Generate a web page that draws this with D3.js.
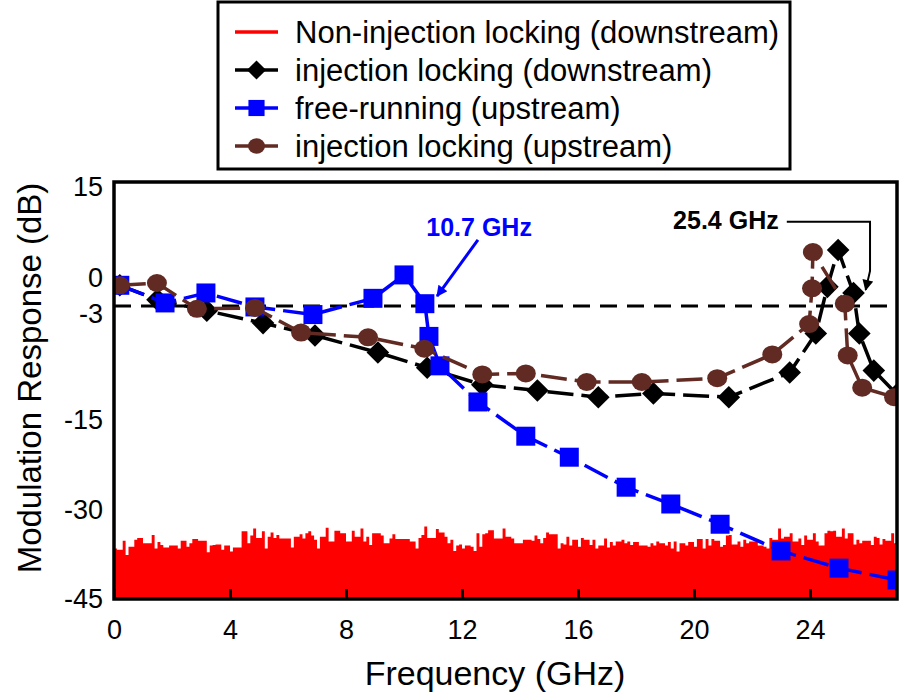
<!DOCTYPE html>
<html>
<head>
<meta charset="utf-8">
<script src="https://cdn.jsdelivr.net/npm/d3@7"></script>
<style>
  body { margin: 0; background: #fff; }
</style>
</head>
<body>
<svg id="chart" width="900" height="694"></svg>
<script>

//--------------------------------------
// DATA
//--------------------------------------

var freqRange = [0, 27];
var xTickValues = [0, 4, 8, 12, 16, 20, 24];
var yTickValues = [15, 0, -3, -15, -30, -45];

// injection locking (downstream)
var ilDownFreq = [0.2, 1.5, 3.2, 5.14, 6.93, 9.1, 10.8, 12.7, 14.6, 16.7, 18.6, 21.2, 23.3, 24.2, 24.6, 24.97, 25.5, 25.7, 26.2, 27.0];
var ilDownResp = [-0.3, -2.2, -3.5, -4.8, -6.1, -7.9, -9.5, -11.3, -11.9, -12.6, -12.2, -12.6, -10.0, -5.9, -0.5, 4.9, -1.3, -5.9, -9.8, -12.3];

// free-running (upstream)
var frUpFreq = [0.2, 1.76, 3.17, 4.86, 6.86, 8.93, 10.0, 10.72, 10.86, 11.24, 12.55, 14.2, 15.7, 17.66, 19.2, 20.9, 23.0, 25.0, 27.0];
var frUpResp = [-0.3, -2.6, -1.3, -3.1, -3.9, -2.0, 1.2, -2.7, -6.2, -9.3, -13.1, -17.7, -21.2, -26.2, -29.0, -32.4, -36.9, -39.8, -41.8];

// injection locking (upstream)
var ilUpFreq = [0.2, 1.48, 2.86, 4.86, 6.45, 8.76, 10.7, 12.7, 14.2, 16.3, 18.2, 20.8, 22.7, 23.97, 24.07, 24.1, 25.2, 25.3, 25.8, 26.9];
var ilUpResp = [-0.3, 0.0, -3.3, -3.2, -5.8, -6.3, -7.5, -10.2, -10.1, -11.0, -11.0, -10.6, -8.1, -4.9, -0.7, 4.6, -2.7, -8.2, -11.6, -12.6];

// non-injection locking (downstream), one value every 0.1 GHz from 0 GHz
var noiseStep = 0.1;
var noiseResp = [
  -36.5,-36.7,-36.7,-35.2,-37.6,-36.2,-36.2,-35.0,-34.7,-34.7,
  -35.6,-35.6,-35.6,-34.2,-36.5,-35.4,-35.9,-36.3,-36.3,-36.0,
  -36.0,-36.0,-36.5,-35.2,-35.2,-36.2,-35.6,-34.9,-34.9,-35.2,
  -35.2,-35.2,-37.1,-36.0,-35.9,-35.8,-35.8,-36.7,-36.0,-36.0,
  -37.0,-36.3,-36.3,-36.3,-33.6,-33.6,-35.6,-34.3,-33.1,-34.7,
  -34.7,-33.6,-36.5,-34.5,-33.8,-34.7,-34.2,-34.8,-34.8,-34.8,
  -34.8,-36.3,-34.5,-34.5,-34.1,-34.8,-33.9,-33.6,-34.3,
  -35.0,-36.5,-34.5,-34.5,-33.0,-35.3,-35.3,-33.5,-33.5,-33.9,
  -33.9,-35.3,-35.3,-33.5,-34.5,-34.5,-33.1,-35.3,-34.5,-35.9,
  -33.9,-33.9,-33.9,-34.3,-35.6,-35.6,-34.8,-34.1,-34.9,-34.9,
  -34.9,-34.9,-34.9,-35.3,-35.3,-36.5,-34.7,-34.2,-32.8,-34.7,
  -34.7,-34.7,-33.2,-33.8,-33.8,-34.5,-35.6,-35.0,-36.9,-36.0,
  -35.8,-36.5,-36.0,-36.0,-36.2,-36.9,-33.9,-36.2,-34.1,-33.9,
  -33.4,-33.4,-34.8,-34.8,-34.8,-33.1,-34.5,-34.5,
  -34.8,-35.6,-35.6,-35.6,-35.0,-35.0,-35.0,-35.2,-34.3,-34.9,
  -35.6,-34.7,-33.8,-34.1,-34.1,-34.1,-36.5,-35.6,-35.8,-34.5,
  -36.0,-35.0,-35.0,-36.2,-34.7,-35.0,-35.0,-35.9,-35.0,-36.5,
  -36.0,-36.0,-34.8,-36.3,-35.4,-36.0,-35.3,-35.3,-35.0,-35.6,
  -35.3,-35.9,-35.4,-35.4,-36.0,-36.0,-36.0,-36.2,-35.6,-36.0,
  -35.3,-35.6,-35.6,-36.0,-35.4,-36.5,-35.3,-37.0,-35.6,-35.6,
  -36.0,-35.4,-35.4,-36.2,-34.9,-34.9,-36.5,-34.9,
  -36.0,-34.9,-35.2,-35.2,-36.2,-35.9,-34.3,-34.2,-35.8,-35.8,
  -35.3,-36.2,-35.0,-35.6,-35.3,-35.3,-35.3,-36.0,-36.0,-36.2,
  -36.5,-34.7,-35.0,-35.0,-33.1,-34.8,-34.5,-34.5,-33.9,-35.3,
  -35.3,-34.8,-35.9,-34.3,-35.0,-35.0,-33.9,-35.3,-36.0,-36.0,
  -33.9,-33.5,-33.6,-33.5,-34.5,-34.5,-33.1,-34.8,-33.9,-33.9,
  -35.8,-35.0,-35.6,-35.2,-35.2,-35.2,-35.9,-34.5,-34.7,-35.8,
  -34.9,-35.2,-35.2,-33.9,-35.6
];

var legendLabels = [
  "Non-injection locking (downstream)",
  "injection locking (downstream)",
  "free-running (upstream)",
  "injection locking (upstream)"
];

var refLevel = -3;


//--------------------------------------
// SETUP
//--------------------------------------

var fontFamily = "Arial, 'Liberation Sans', Helvetica, sans-serif";
var colRed = "#ff0000", colBlack = "#000000", colBlue = "#0000ff", colBrown = "#612a22";

var plotLeft = 114, plotRight = 897, plotTop = 182, plotBottom = 599;

var svg = d3.select("#chart");

var x = d3.scaleLinear().domain(freqRange).range([plotLeft, plotRight]);
// the printed axis is not evenly spaced, so the scale follows its labels
var y = d3.scaleLinear().domain(yTickValues).range([plotTop, 283, 306, 420, 510, plotBottom]);

svg.append("defs").append("clipPath").attr("id", "plotClip")
  .append("rect")
  .attr("x", plotLeft).attr("y", plotTop)
  .attr("width", plotRight - plotLeft).attr("height", plotBottom - plotTop);

var plot = svg.append("g").attr("clip-path", "url(#plotClip)");

_drawNoise();
_drawRefLine();
_drawSeries(ilDownFreq, ilDownResp, colBlack, "diamond");
_drawSeries(frUpFreq, frUpResp, colBlue, "square");
_drawSeries(ilUpFreq, ilUpResp, colBrown, "circle");
_drawAxes();
_drawAnnotations();
_drawLegend();


//--------------------------------------
// DRAWING
//--------------------------------------

function _drawNoise() {

  var pts = noiseResp.map(function(v, i) { return [i * noiseStep, v]; });
  pts.push([freqRange[1], noiseResp[noiseResp.length - 1]]);

  var area = d3.area()
    .curve(d3.curveStepAfter)
    .x(function(d) { return x(d[0]); })
    .y0(y(-45))
    .y1(function(d) { return y(d[1]); });

  plot.append("path")
    .datum(pts)
    .attr("d", area)
    .attr("fill", colRed);
}


function _drawRefLine() {

  plot.append("line")
    .attr("x1", x(freqRange[0])).attr("x2", x(freqRange[1]))
    .attr("y1", y(refLevel)).attr("y2", y(refLevel))
    .attr("stroke", "#000")
    .attr("stroke-width", 3)
    .attr("stroke-dasharray", "17,10");
}


function _marker(sel, shape, colour, scale) {

  if (shape === "circle") {
    sel.append("ellipse")
      .attr("rx", 10 * scale).attr("ry", 9 * scale)
      .attr("fill", colour);
  } else if (shape === "square") {
    sel.append("path")
      .attr("d", d3.symbol().type(d3.symbolSquare).size(361 * scale * scale)())
      .attr("fill", colour);
  } else {
    sel.append("path")
      .attr("d", d3.symbol().type(d3.symbolSquare).size(256 * scale * scale)())
      .attr("transform", "rotate(45)")
      .attr("fill", colour);
  }
}


function _drawSeries(freqs, resps, colour, shape) {

  var pts = freqs.map(function(f, i) { return [f, resps[i]]; });

  var line = d3.line()
    .x(function(d) { return x(d[0]); })
    .y(function(d) { return y(d[1]); });

  plot.append("path")
    .datum(pts)
    .attr("d", line)
    .attr("fill", "none")
    .attr("stroke", colour)
    .attr("stroke-width", 3.5)
    .attr("stroke-dasharray", "26,8");

  plot.selectAll(null).data(pts).enter().append("g")
    .attr("transform", function(d) { return "translate(" + x(d[0]) + "," + y(d[1]) + ")"; })
    .each(function() { _marker(d3.select(this), shape, colour, 1); });
}


function _drawAxes() {

  var xAxis = d3.axisBottom(x)
    .tickValues(xTickValues)
    .tickFormat(function(d) { return String(d); })
    .tickSizeInner(-10)
    .tickSizeOuter(0)
    .tickPadding(21);

  var gx = svg.append("g")
    .attr("transform", "translate(0," + plotBottom + ")")
    .call(xAxis);
  gx.select(".domain").remove();
  gx.selectAll(".tick line").attr("stroke", "#000").attr("stroke-width", 3);
  gx.selectAll(".tick text")
    .attr("font-family", fontFamily).attr("font-size", 27).attr("fill", "#000");

  var yAxis = d3.axisLeft(y)
    .tickValues(yTickValues)
    .tickFormat(function(d) { return String(d); })  // plain hyphen as in the print
    .tickSize(0)
    .tickPadding(11);

  var gy = svg.append("g")
    .attr("transform", "translate(" + plotLeft + ",0)")
    .call(yAxis);
  gy.select(".domain").remove();
  gy.selectAll(".tick text")
    .attr("font-family", fontFamily).attr("font-size", 27).attr("fill", "#000")
    // the "0" and "-3" labels sit a little apart in the original
    .attr("dy", function(d) { return d === 0 ? "0.12em" : (d === -3 ? "0.62em" : (d === 15 ? "0.5em" : "0.32em")); });

  // frame
  svg.append("rect")
    .attr("x", plotLeft).attr("y", plotTop)
    .attr("width", plotRight - plotLeft).attr("height", plotBottom - plotTop)
    .attr("fill", "none")
    .attr("stroke", "#000")
    .attr("stroke-width", 3.5);

  svg.append("text")
    .attr("x", 495)
    .attr("y", 685)
    .attr("text-anchor", "middle")
    .attr("font-family", fontFamily).attr("font-size", 34)
    .text("Frequency (GHz)");

  svg.append("text")
    .attr("transform", "translate(41," + 378 + ") rotate(-90)")
    .attr("text-anchor", "middle")
    .attr("font-family", fontFamily).attr("font-size", 33)
    .text("Modulation Response (dB)");
}


function _drawAnnotations() {

  var defs = svg.select("defs");
  [["arrowBlue", colBlue], ["arrowBlack", colBlack]].forEach(function(a) {
    defs.append("marker")
      .attr("id", a[0])
      .attr("viewBox", "0 0 10 10")
      .attr("refX", 9).attr("refY", 5)
      .attr("markerWidth", 13).attr("markerHeight", 11)
      .attr("markerUnits", "userSpaceOnUse")
      .attr("orient", "auto")
      .append("path")
      .attr("d", "M0,0 L10,5 L0,10 Z")
      .attr("fill", a[1]);
  });

  // 10.7 GHz resonance of the free-running laser
  svg.append("text")
    .attr("x", x(12.59)).attr("y", y(7))
    .attr("text-anchor", "middle")
    .attr("font-family", fontFamily).attr("font-size", 25).attr("font-weight", "bold")
    .attr("fill", colBlue)
    .text("10.7 GHz");

  svg.append("line")
    .attr("x1", x(12.55)).attr("y1", y(6.4))
    .attr("x2", x(11.14)).attr("y2", y(-1.7))
    .attr("stroke", colBlue).attr("stroke-width", 3)
    .attr("marker-end", "url(#arrowBlue)");

  // 25.4 GHz resonance under injection locking
  svg.append("text")
    .attr("x", x(21.1)).attr("y", y(8))
    .attr("text-anchor", "middle")
    .attr("font-family", fontFamily).attr("font-size", 25).attr("font-weight", "bold")
    .attr("fill", colBlack)
    .text("25.4 GHz");

  svg.append("path")
    .attr("d", "M" + x(23.2) + "," + y(9.1) +
               "H" + x(26.07) +
               "V" + y(1.8) +
               "L" + x(25.92) + "," + y(-0.9))
    .attr("fill", "none")
    .attr("stroke", colBlack).attr("stroke-width", 2)
    .attr("marker-end", "url(#arrowBlack)");
}


function _drawLegend() {

  var lg = svg.append("g");

  lg.append("rect")
    .attr("x", 218).attr("y", 2)
    .attr("width", 572).attr("height", 167)
    .attr("fill", "#fff")
    .attr("stroke", "#000")
    .attr("stroke-width", 3);

  var colours = [colRed, colBlack, colBlue, colBrown];
  var shapes = [null, "diamond", "square", "circle"];
  var rowY = [32, 70, 108, 146];

  legendLabels.forEach(function(label, i) {

    var row = lg.append("g").attr("transform", "translate(0," + rowY[i] + ")");

    row.append("line")
      .attr("x1", 235).attr("x2", 278)
      .attr("y1", 0).attr("y2", 0)
      .attr("stroke", colours[i])
      .attr("stroke-width", 3.5);

    if (shapes[i]) {
      var m = row.append("g").attr("transform", "translate(256.5,0)");
      _marker(m, shapes[i], colours[i], 0.85);
    }

    row.append("text")
      .attr("x", 295).attr("y", 11)
      .attr("font-family", fontFamily).attr("font-size", 31)
      .attr("fill", "#000")
      .text(label);
  });
}

</script>
</body>
</html>
